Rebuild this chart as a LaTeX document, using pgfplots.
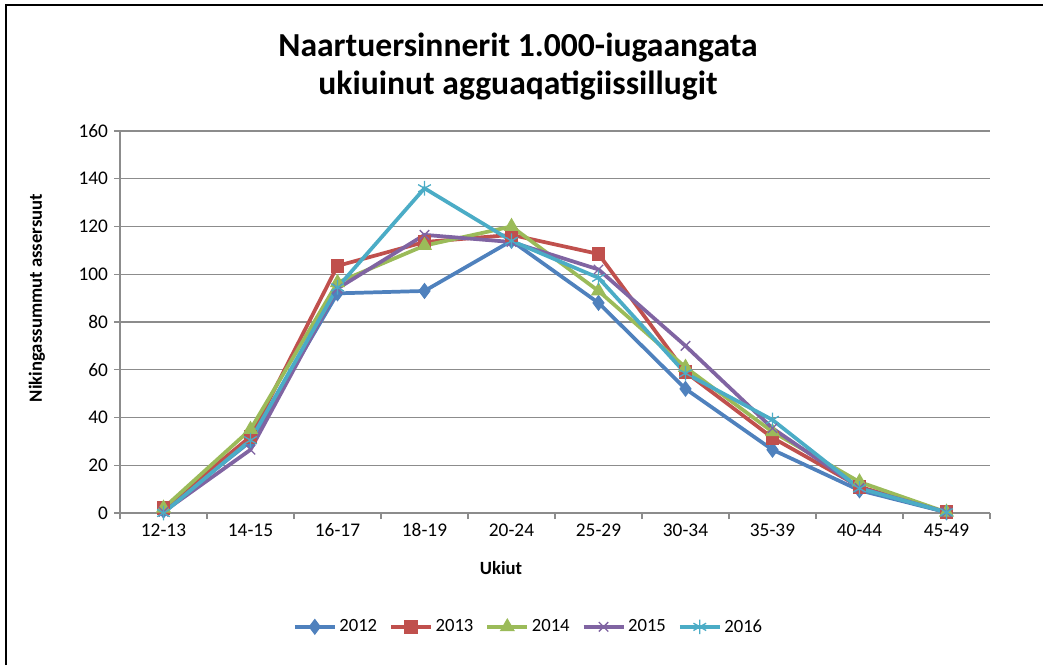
\documentclass[border=0pt]{standalone}
\usepackage{pgfplots}
\pgfplotsset{compat=1.18}
\usepackage{fontspec}
\setmainfont{Carlito}
\definecolor{c12}{HTML}{4F81BD}
\definecolor{c13}{HTML}{C0504D}
\definecolor{c14}{HTML}{9BBB59}
\definecolor{c15}{HTML}{8064A2}
\definecolor{c16}{HTML}{4BACC6}
\definecolor{gridc}{HTML}{8C8C8C}
\newcommand{\tfont}{\fontsize{14.5}{17}\selectfont}
\newcommand{\lfont}{\fontsize{14}{17}\selectfont}
\begin{document}
\begin{tikzpicture}
\useasboundingbox (0,0) rectangle (782.25pt,498.75pt);
\draw[line width=1.5pt,black] (4.5pt,0) -- (4.5pt,495pt) -- (782.25pt,495pt);
\begin{axis}[
  at={(90pt,114pt)}, anchor=south west,
  scale only axis, width=652.5pt, height=286.5pt,
  xmin=-0.5, xmax=9.5, ymin=0, ymax=160,
  xtick={-0.5,0.5,...,9.5},
  x tick label as interval,
  xticklabels={12-13,14-15,16-17,18-19,20-24,25-29,30-34,35-39,40-44,45-49},
  ytick={0,20,...,160},
  axis x line*=bottom, axis y line*=left,
  axis line style={-, gridc, line width=0.8pt},
  ymajorgrids, grid style={gridc, line width=0.8pt},
  tick align=outside, major tick length=4.5pt,
  tick style={gridc, line width=0.8pt},
  /pgf/number format/assume math mode=true,
  ticklabel style={font=\tfont},
  yticklabel style={xshift=-1pt},
  legend columns=5,
  legend style={draw=none, at={(0.47,-0.298)}, anchor=center, font=\lfont,
    /tikz/every even column/.append style={column sep=7pt}},
  legend image code/.code={\draw[mark repeat=2,mark phase=2] plot coordinates {(0pt,0pt) (15pt,0pt) (30pt,0pt)};},
  every axis plot/.append style={line width=2.8pt},
]
\addplot[c12, mark=diamond*, mark size=5.5pt, mark options={solid, line width=0.8pt}] coordinates {(0,1) (1,30) (2,92) (3,93) (4,114) (5,88) (6,52) (7,26.5) (8,9.5) (9,0.3)};
\addlegendentry{2012}
\addplot[c13, mark=square*, mark size=4.8pt, mark options={solid, line width=0.8pt}] coordinates {(0,2) (1,32) (2,103.5) (3,113.5) (4,116.5) (5,108.5) (6,59) (7,31.5) (8,11) (9,0.3)};
\addlegendentry{2013}
\addplot[c14, mark=triangle*, mark size=5.8pt, mark options={solid, line width=0.8pt}] coordinates {(0,2) (1,35) (2,96.5) (3,112) (4,120) (5,93) (6,61) (7,34) (8,13) (9,0.3)};
\addlegendentry{2014}
\addplot[c15, mark=x, mark size=5pt, mark options={solid, line width=1pt}] coordinates {(0,0.5) (1,26.5) (2,94) (3,116.5) (4,113.5) (5,102) (6,70) (7,35.5) (8,10.5) (9,0.3)};
\addlegendentry{2015}
\addplot[c16, mark=asterisk, mark size=5.5pt, mark options={solid, line width=1pt}] coordinates {(0,0) (1,30.5) (2,94.5) (3,136) (4,114) (5,98.5) (6,58.5) (7,39) (8,10.3) (9,0.3)};
\addlegendentry{2016}
\end{axis}
\node[anchor=base, font=\fontsize{25.2}{29}\selectfont\bfseries] at (388.5pt,456pt) {Naartuersinnerit 1.000-iugaangata};
\node[anchor=base, font=\fontsize{25.2}{29}\selectfont\bfseries] at (388.5pt,427.5pt) {ukiuinut agguaqatigiissillugit};
\node[rotate=90, font=\fontsize{14}{17}\selectfont\bfseries] at (27.75pt,275.25pt) {Nikingassummut assersuut};
\node[anchor=base, font=\fontsize{14}{17}\selectfont\bfseries] at (375.75pt,68.25pt) {Ukiut};
\end{tikzpicture}
\end{document}
